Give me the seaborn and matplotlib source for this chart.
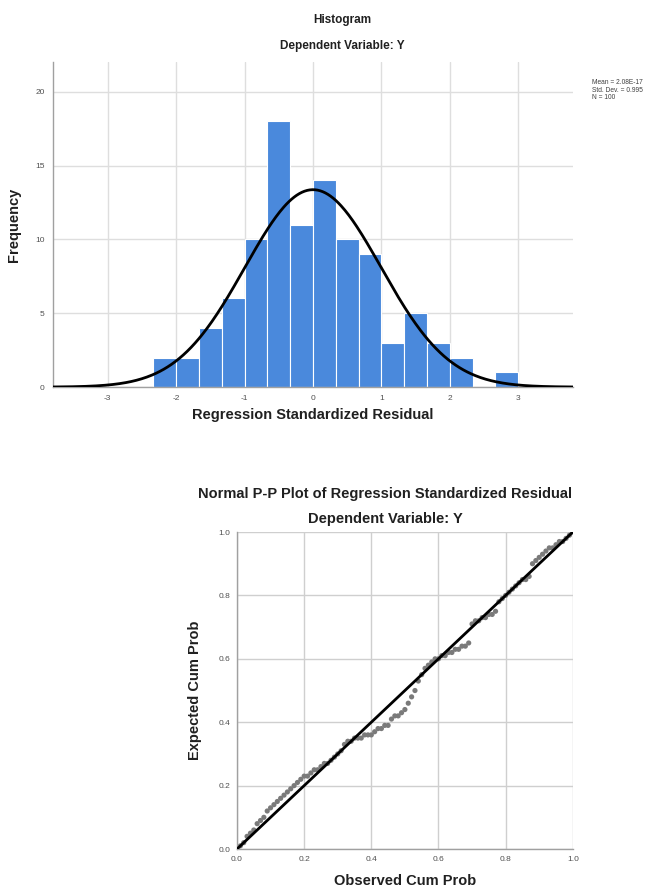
import numpy as np
import pandas as pd
import matplotlib
matplotlib.use("Agg")
import matplotlib.pyplot as plt
import seaborn as sns

# histogram of regression standardized residuals (counts)
bin_start = -7 / 3
bin_width = 1 / 3
counts = [2, 2, 4, 6, 10, 18, 11, 14, 10, 9, 3, 5, 3, 2, 0, 1]
res_mean = 2.08e-17
res_std = 0.995
n_cases = 100
hist_xticks = [-3, -2, -1, 0, 1, 2, 3]
hist_yticks = [0, 5, 10, 15, 20]

# normal P-P plot points
observed = [0.01, 0.02, 0.03, 0.04, 0.05, 0.06, 0.07, 0.08, 0.09, 0.10,
            0.11, 0.12, 0.13, 0.14, 0.15, 0.16, 0.17, 0.18, 0.19, 0.20,
            0.21, 0.22, 0.23, 0.24, 0.25, 0.26, 0.27, 0.28, 0.29, 0.30,
            0.31, 0.32, 0.33, 0.34, 0.35, 0.36, 0.37, 0.38, 0.39, 0.40,
            0.41, 0.42, 0.43, 0.44, 0.45, 0.46, 0.47, 0.48, 0.49, 0.50,
            0.51, 0.52, 0.53, 0.54, 0.55, 0.56, 0.57, 0.58, 0.59, 0.60,
            0.61, 0.62, 0.63, 0.64, 0.65, 0.66, 0.67, 0.68, 0.69, 0.70,
            0.71, 0.72, 0.73, 0.74, 0.75, 0.76, 0.77, 0.78, 0.79, 0.80,
            0.81, 0.82, 0.83, 0.84, 0.85, 0.86, 0.87, 0.88, 0.89, 0.90,
            0.91, 0.92, 0.93, 0.94, 0.95, 0.96, 0.97, 0.98, 0.99, 1.00]
expected = [0.01, 0.02, 0.04, 0.05, 0.06, 0.08, 0.09, 0.10, 0.12, 0.13,
            0.14, 0.15, 0.16, 0.17, 0.18, 0.19, 0.20, 0.21, 0.22, 0.23,
            0.23, 0.24, 0.25, 0.25, 0.26, 0.27, 0.27, 0.28, 0.29, 0.30,
            0.31, 0.33, 0.34, 0.34, 0.35, 0.35, 0.35, 0.36, 0.36, 0.36,
            0.37, 0.38, 0.38, 0.39, 0.39, 0.41, 0.42, 0.42, 0.43, 0.44,
            0.46, 0.48, 0.50, 0.53, 0.55, 0.57, 0.58, 0.59, 0.60, 0.60,
            0.61, 0.61, 0.62, 0.62, 0.63, 0.63, 0.64, 0.64, 0.65, 0.71,
            0.72, 0.72, 0.73, 0.73, 0.74, 0.74, 0.75, 0.78, 0.79, 0.80,
            0.81, 0.82, 0.83, 0.84, 0.85, 0.85, 0.86, 0.90, 0.91, 0.92,
            0.93, 0.94, 0.95, 0.95, 0.96, 0.97, 0.97, 0.98, 0.99, 1.00]
pp_ticks = [0.0, 0.2, 0.4, 0.6, 0.8, 1.0]

sns.set_theme(style="white")
plt.rcParams['font.family'] = ['Liberation Sans', 'DejaVu Sans']
plt.rcParams['axes.unicode_minus'] = False

grid_col = "#dedede"
axis_col = "#a0a0a0"
tick_col = "#505050"
text_col = "#202020"

fig = plt.figure(figsize=(6.52, 8.94), dpi=100)

# ---- histogram ----
ax1 = fig.add_axes([0.0813, 0.567, 0.7975, 0.3635])
edges = [bin_start + bin_width * i for i in range(len(counts) + 1)]
centers = [(edges[i] + edges[i + 1]) / 2 for i in range(len(counts))]
hist_df = pd.DataFrame({"resid": centers, "count": counts})
sns.histplot(data=hist_df, x="resid", weights="count", bins=edges,
             color="#4a89dc", alpha=1, edgecolor="white", linewidth=0.8,
             ax=ax1, zorder=2)

xs = np.linspace(-3.8, 3.8, 400)
curve = n_cases * bin_width / (res_std * np.sqrt(2 * np.pi)) * np.exp(-0.5 * ((xs - res_mean) / res_std) ** 2)
sns.lineplot(x=xs, y=curve, color="black", linewidth=2, ax=ax1, zorder=3)

ax1.set_xlim(-3.8, 3.8)
ax1.set_ylim(0, 22)
ax1.set_xticks(hist_xticks)
ax1.set_yticks(hist_yticks)
ax1.grid(True, color=grid_col, linewidth=1)
ax1.set_axisbelow(True)
for s in ["top", "right"]:
    ax1.spines[s].set_visible(False)
for s in ["left", "bottom"]:
    ax1.spines[s].set_color(axis_col)
    ax1.spines[s].set_linewidth(1)
ax1.tick_params(axis="both", labelsize=6, colors=tick_col, length=0, pad=6)
ax1.set_xlabel("Regression Standardized Residual", fontsize=10.5, fontweight="bold", color=text_col, labelpad=4)
ax1.set_ylabel("Frequency", fontsize=10.5, fontweight="bold", color=text_col, labelpad=10)
fig.text(0.5245, 0.978, "Histogram", ha="center", va="center", fontsize=8.5, fontweight="bold", color=text_col)
fig.text(0.5245, 0.948, "Dependent Variable: Y", ha="center", va="center", fontsize=8.5, fontweight="bold", color=text_col)
fig.text(0.908, 0.899, "Mean = 2.08E-17\nStd. Dev. = 0.995\nN = 100", ha="left", va="center",
         fontsize=4.8, color="#404040", linespacing=1.1)

# ---- normal P-P plot ----
ax2 = fig.add_axes([0.3635, 0.0503, 0.515, 0.3546])
pp_df = pd.DataFrame({"obs": observed, "exp": expected})
sns.lineplot(x=[0, 1], y=[0, 1], color="black", linewidth=2, ax=ax2, zorder=3)
sns.scatterplot(data=pp_df, x="obs", y="exp", color="#7a7a7a", s=14, edgecolor="none", ax=ax2, zorder=2)
ax2.set_xlim(0, 1)
ax2.set_ylim(0, 1)
ax2.set_xticks(pp_ticks)
ax2.set_yticks(pp_ticks)
ax2.set_xticklabels([f"{t:.1f}" for t in pp_ticks])
ax2.set_yticklabels([f"{t:.1f}" for t in pp_ticks])
ax2.grid(True, color="#cfcfcf", linewidth=1)
ax2.set_axisbelow(True)
for s in ["top", "right"]:
    ax2.spines[s].set_visible(False)
for s in ["left", "bottom"]:
    ax2.spines[s].set_color(axis_col)
    ax2.spines[s].set_linewidth(1)
ax2.tick_params(axis="both", labelsize=6, colors=tick_col, length=0, pad=5)
ax2.set_xlabel("Observed Cum Prob", fontsize=10.5, fontweight="bold", color=text_col, labelpad=8)
ax2.set_ylabel("Expected Cum Prob", fontsize=10.5, fontweight="bold", color=text_col, labelpad=12)
fig.text(0.5905, 0.4475, "Normal P-P Plot of Regression Standardized Residual", ha="center", va="center",
         fontsize=10.5, fontweight="bold", color=text_col)
fig.text(0.5905, 0.4195, "Dependent Variable: Y", ha="center", va="center",
         fontsize=10.5, fontweight="bold", color=text_col)

fig.savefig("out.png", dpi=100)
